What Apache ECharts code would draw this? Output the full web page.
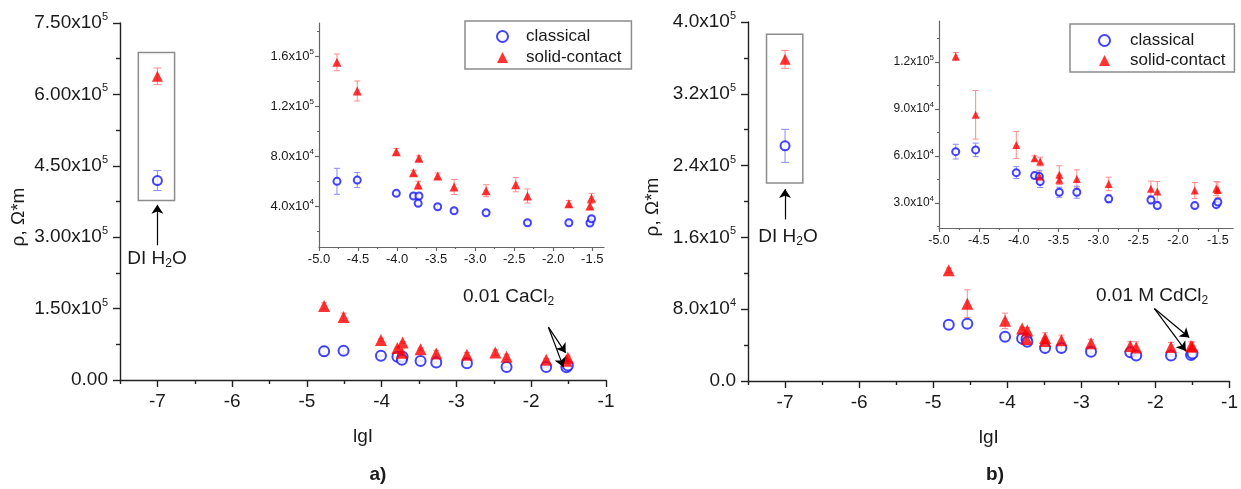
<!DOCTYPE html>
<html><head><meta charset="utf-8">
<script src="https://cdn.jsdelivr.net/npm/echarts@6/dist/echarts.min.js"></script>
<style>html,body{margin:0;padding:0;background:#fff}#c{width:1241px;height:489px}</style>
</head><body><div id="c"></div>
<script>
// ---------------- data: panel a (CaCl2) ----------------
const aClsX = [-4.77,-4.51,-4.01,-3.79,-3.72,-3.73,-3.48,-3.27,-2.86,-2.33,-1.80,-1.53,-1.51];
const aClsY = [60300,61300,50700,48600,48600,42700,40000,36800,35200,27200,27200,27000,30400];
const aClsE = [10400,6000,1500,1500,1500,1500,1500,1500,1200,1200,1200,1200,1500];
const aSolX = [-4.77,-4.51,-4.01,-3.79,-3.72,-3.73,-3.48,-3.27,-2.86,-2.48,-2.33,-1.80,-1.53,-1.51];
const aSolY = [155500,132600,84000,67200,78700,57400,64500,55800,52800,57600,48600,42400,40500,46700];
const aSolE = [6700,8000,2500,2000,2000,3000,2500,6000,4800,5700,5600,2500,2500,4000];
const aDiX = [-7];
const aDiClsY = [419000];
const aDiClsE = [21000];
const aDiSolY = [638000];
const aDiSolE = [17500];

// ---------------- data: panel b (CdCl2) ----------------
const bClsX = [-4.79,-4.54,-4.03,-3.80,-3.74,-3.73,-3.49,-3.27,-2.87,-2.34,-2.26,-1.79,-1.52,-1.50];
const bClsY = [62700,63800,49300,47400,46800,43600,36800,36800,32600,31900,28300,28300,28900,30600];
const bClsE = [4700,4300,3800,1500,4000,3800,3200,3800,2500,2500,1500,1000,1500,2000];
const bSolX = [-4.79,-4.54,-4.03,-3.80,-3.73,-3.74,-3.49,-3.49,-3.27,-2.87,-2.34,-2.26,-1.79,-1.52,-1.50];
const bSolY = [123400,86200,67000,58500,56400,46800,47900,44700,45300,42100,39100,37200,37900,39100,38300];
const bSolE = [2500,15500,8600,1500,2800,3000,5800,3000,5800,4300,4800,6400,5100,4500,5000];
const bDiX = [-7];
const bDiClsY = [262000];
const bDiClsE = [18400];
const bDiSolY = [358400];
const bDiSolE = [10000];

// ---------------- ticks ----------------
const mainXMajor = [-7,-6,-5,-4,-3,-2,-1];
const mainXLabels = ['-7','-6','-5','-4','-3','-2','-1'];
const mainXMinor = [-7.5,-6.5,-5.5,-4.5,-3.5,-2.5,-1.5];
const inXMajor = [-5,-4.5,-4,-3.5,-3,-2.5,-2,-1.5];
const inXLabels = ['-5.0','-4.5','-4.0','-3.5','-3.0','-2.5','-2.0','-1.5'];
const inXMinor = [-4.75,-4.25,-3.75,-3.25,-2.75,-2.25,-1.75];

const aYMajor = [0,150000,300000,450000,600000,750000];
const aYLabels = ['0.00','1.50x10^5','3.00x10^5','4.50x10^5','6.00x10^5','7.50x10^5'];
const aYMinor = [75000,225000,375000,525000,675000];
const aInYMajor = [40000,80000,120000,160000];
const aInYLabels = ['4.0x10^4','8.0x10^4','1.2x10^5','1.6x10^5'];
const aInYMinor = [20000,60000,100000,140000,180000];

const bYMajor = [0,80000,160000,240000,320000,400000];
const bYLabels = ['0.0','8.0x10^4','1.6x10^5','2.4x10^5','3.2x10^5','4.0x10^5'];
const bYMinor = [40000,120000,200000,280000,360000];
const bInYMajor = [30000,60000,90000,120000];
const bInYLabels = ['3.0x10^4','6.0x10^4','9.0x10^4','1.2x10^5'];
const bInYMinor = [15000,45000,75000,105000,135000];

// ---------------- helpers ----------------
const FONT = "'Liberation Sans', Arial, Helvetica, sans-serif";
const TXT = '#1a1a1a';
const BLUE = '#1414ff', RED = '#ff0000', BLUE_E = '#8a8aff', RED_E = '#ff8a8a';

function toRich(s) {
  if (s.indexOf('^') < 0) return '{m|' + s + '}';
  const p = s.split('^');
  return '{m|' + p[0] + '}{s|' + p[1] + '}';
}
function idxOf(arr, v) {
  let best = 0;
  for (let i = 1; i < arr.length; i++) if (Math.abs(arr[i] - v) < Math.abs(arr[best] - v)) best = i;
  return best;
}
function axisPair(dim, grid, min, max, major, labels, minor, o) {
  const pos = dim === 'x' ? 'bottom' : 'left';
  const rich = {
    m: {fontSize: o.fs, lineHeight: o.fs + 4, color: TXT, fontFamily: FONT},
    s: {fontSize: o.sfs, lineHeight: o.sfs + 1, verticalAlign: 'top', color: TXT, fontFamily: FONT}
  };
  const ls = {color: o.lc, width: o.lw};
  const maj = {
    type: 'value', gridIndex: grid, position: pos, min: min, max: max,
    axisLine: {show: true, onZero: false, lineStyle: ls},
    axisTick: {show: true, inside: false, length: o.tl, customValues: major, lineStyle: ls},
    axisLabel: {show: true, customValues: major, margin: o.margin, color: TXT,
      formatter: function (v) { return toRich(labels[idxOf(major, v)]); }, rich: rich},
    splitLine: {show: false}, minorTick: {show: false}
  };
  const mnr = {
    type: 'value', gridIndex: grid, position: pos, min: min, max: max,
    axisLine: {show: false, onZero: false},
    axisTick: {show: true, inside: false, length: Math.round(o.tl * 0.55), customValues: minor, lineStyle: ls},
    axisLabel: {show: false}, splitLine: {show: false}
  };
  return [maj, mnr];
}
function zip(xs, ys, es) { return xs.map((x, i) => es ? [x, ys[i], es[i]] : [x, ys[i]]); }
function errRender(cap, color, width) {
  return function (params, api) {
    const x = api.value(0), y = api.value(1), e = api.value(2);
    const hi = api.coord([x, y + e]), lo = api.coord([x, y - e]);
    const st = {stroke: color, lineWidth: width};
    return {type: 'group', children: [
      {type: 'line', shape: {x1: hi[0], y1: hi[1], x2: lo[0], y2: lo[1]}, style: st},
      {type: 'line', shape: {x1: hi[0] - cap, y1: hi[1], x2: hi[0] + cap, y2: hi[1]}, style: st},
      {type: 'line', shape: {x1: lo[0] - cap, y1: lo[1], x2: lo[0] + cap, y2: lo[1]}, style: st}
    ]};
  };
}
function errSeries(xi, yi, xs, ys, es, cap, color) {
  return {type: 'custom', name: 'err', xAxisIndex: xi, yAxisIndex: yi, z: 1, silent: true,
    renderItem: errRender(cap, color, 1), data: zip(xs, ys, es), encode: {x: 0, y: 1}};
}
function clsSeries(xi, yi, xs, ys, size, bw, extra) {
  return Object.assign({type: 'scatter', name: 'classical', xAxisIndex: xi, yAxisIndex: yi, z: 3,
    symbol: 'emptyCircle', symbolSize: size,
    itemStyle: {color: BLUE, borderColor: BLUE, borderWidth: bw}, data: zip(xs, ys)}, extra || {});
}
function solSeries(xi, yi, xs, ys, size) {
  return {type: 'scatter', name: 'solid-contact', xAxisIndex: xi, yAxisIndex: yi, z: 3,
    symbol: 'triangle', symbolSize: size, itemStyle: {color: RED}, data: zip(xs, ys)};
}

const mainO = {fs: 19, sfs: 11, lc: '#222', lw: 1.4, tl: 7, margin: 10};
const mainYO = Object.assign({}, mainO, {margin: 12});
const inAO = {fs: 13, sfs: 8, lc: '#666', lw: 1.2, tl: 4, margin: 5};
const inBO = {fs: 12, sfs: 8, lc: '#666', lw: 1.2, tl: 4, margin: 5};

const xAxes = [].concat(
  axisPair('x', 0, -7.5, -1, mainXMajor, mainXLabels, mainXMinor, mainO),
  axisPair('x', 1, -5, -1.35, inXMajor, inXLabels, inXMinor, Object.assign({}, inAO, {margin: 4})),
  axisPair('x', 2, -7.5, -1, mainXMajor, mainXLabels, mainXMinor, mainO),
  axisPair('x', 3, -5, -1.31, inXMajor, inXLabels, inXMinor, Object.assign({}, inBO, {fs: 12.5, margin: 4}))
);
xAxes[0].name = 'lgI'; xAxes[0].nameLocation = 'middle'; xAxes[0].nameGap = 47;
xAxes[0].nameTextStyle = {fontSize: 19, color: TXT, fontFamily: FONT};
xAxes[4].name = 'lgI'; xAxes[4].nameLocation = 'middle'; xAxes[4].nameGap = 47;
xAxes[4].nameTextStyle = {fontSize: 19, color: TXT, fontFamily: FONT};

const yAxes = [].concat(
  axisPair('y', 0, 0, 750000, aYMajor, aYLabels, aYMinor, mainYO),
  axisPair('y', 1, 7760, 187000, aInYMajor, aInYLabels, aInYMinor, inAO),
  axisPair('y', 2, 0, 400000, bYMajor, bYLabels, bYMinor, mainYO),
  axisPair('y', 3, 14000, 146000, bInYMajor, bInYLabels, bInYMinor, inBO)
);

const arrowLine = {symbol: ['none', 'arrow'], symbolSize: 9, silent: true, animation: false,
  lineStyle: {color: '#000', width: 1.2, type: 'solid'}, label: {show: false},
  itemStyle: {color: '#000'}};
const boxArea = {silent: true, itemStyle: {color: 'rgba(0,0,0,0)', borderColor: '#8c8c8c', borderWidth: 1.5}, label: {show: false}};

const series = [
  // panel a main
  errSeries(0, 0, aSolX, aSolY, aSolE, 3, RED_E),
  errSeries(0, 0, aClsX, aClsY, aClsE, 3, BLUE_E),
  errSeries(0, 0, aDiX, aDiSolY, aDiSolE, 4, RED_E),
  errSeries(0, 0, aDiX, aDiClsY, aDiClsE, 4, BLUE_E),
  clsSeries(0, 0, aClsX, aClsY, 10, 2.2, {
    markLine: Object.assign({}, arrowLine, {data: [
      [{coord: [-7, 283000]}, {coord: [-7, 368000]}],
      [{coord: [-1.77, 111000]}, {coord: [-1.54, 57000]}],
      [{coord: [-1.77, 111000]}, {coord: [-1.57, 27500]}]
    ]}),
    markArea: Object.assign({}, boxArea, {data: [[{coord: [-7.255, 377000]}, {coord: [-6.77, 688000]}]]})
  }),
  solSeries(0, 0, aSolX, aSolY, 12),
  clsSeries(0, 0, aDiX, aDiClsY, 9, 2),
  solSeries(0, 0, aDiX, aDiSolY, 11),
  // panel a inset
  errSeries(2, 2, aSolX, aSolY, aSolE, 3, RED_E),
  errSeries(2, 2, aClsX, aClsY, aClsE, 3, BLUE_E),
  clsSeries(2, 2, aClsX, aClsY, 7, 1.5),
  solSeries(2, 2, aSolX, aSolY, 9),
  // panel b main
  errSeries(4, 4, bSolX, bSolY, bSolE, 3, RED_E),
  errSeries(4, 4, bClsX, bClsY, bClsE, 3, BLUE_E),
  errSeries(4, 4, bDiX, bDiSolY, bDiSolE, 4, RED_E),
  errSeries(4, 4, bDiX, bDiClsY, bDiClsE, 4, BLUE_E),
  clsSeries(4, 4, bClsX, bClsY, 10, 2.2, {
    markLine: Object.assign({}, arrowLine, {data: [
      [{coord: [-7, 180000]}, {coord: [-7, 214000]}],
      [{coord: [-2.014, 80700]}, {coord: [-1.544, 48400]}],
      [{coord: [-2.014, 80700]}, {coord: [-1.59, 33500]}]
    ]}),
    markArea: Object.assign({}, boxArea, {data: [[{coord: [-7.25, 220500]}, {coord: [-6.76, 386300]}]]})
  }),
  solSeries(4, 4, bSolX, bSolY, 12),
  clsSeries(4, 4, bDiX, bDiClsY, 9, 2),
  solSeries(4, 4, bDiX, bDiSolY, 11),
  // panel b inset
  errSeries(6, 6, bSolX, bSolY, bSolE, 3, RED_E),
  errSeries(6, 6, bClsX, bClsY, bClsE, 3, BLUE_E),
  clsSeries(6, 6, bClsX, bClsY, 7, 1.5),
  solSeries(6, 6, bSolX, bSolY, 8)
];

const legendBase = {orient: 'vertical', selectedMode: false,
  data: ['classical', 'solid-contact'],
  itemWidth: 11, itemHeight: 11, borderColor: '#8c8c8c', borderWidth: 1.5, backgroundColor: '#fff'};

const subRich = {
  b: {fontSize: 19, lineHeight: 22, color: TXT, fontFamily: FONT},
  s: {fontSize: 12, lineHeight: 10, verticalAlign: 'bottom', color: TXT, fontFamily: FONT}
};
function txt(x, y, text, extra) {
  return {type: 'text', x: x, y: y, silent: true,
    style: Object.assign({text: text, fontSize: 19, fontFamily: FONT, fill: TXT, align: 'center', verticalAlign: 'middle'}, extra || {})};
}

const option = {
  animation: false,
  backgroundColor: '#fff',
  grid: [
    {left: 120, top: 23, width: 486, height: 357},
    {left: 319, top: 23, width: 285, height: 224},
    {left: 748, top: 22, width: 484, height: 359},
    {left: 939, top: 21, width: 294, height: 207}
  ],
  xAxis: xAxes,
  yAxis: yAxes,
  legend: [
    Object.assign({}, legendBase, {left: 465, top: 21, itemGap: 4, padding: [7, 10, 3, 31],
      textStyle: {fontSize: 17, lineHeight: 17, color: TXT, fontFamily: FONT, padding: [0, 0, 0, 13]}}),
    Object.assign({}, legendBase, {left: 1070, top: 24, itemGap: 3, padding: [8, 9, 3, 28],
      textStyle: {fontSize: 17, lineHeight: 17, color: TXT, fontFamily: FONT, padding: [0, 0, 0, 15]}})
  ],
  graphic: [
    txt(19, 217, 'ρ, Ω*m', {}),
    txt(653, 207, 'ρ, Ω*m', {}),
    txt(157, 259, '{b|DI H}{s|2}{b|O}', {rich: subRich}),
    txt(788, 237, '{b|DI H}{s|2}{b|O}', {rich: subRich}),
    txt(463, 297, '{b|0.01 CaCl}{s|2}', {rich: subRich, align: 'left'}),
    txt(1096, 296, '{b|0.01 M CdCl}{s|2}', {rich: subRich, align: 'left'}),
    txt(378, 475, 'a)', {fontWeight: 'bold'}),
    txt(995, 475, 'b)', {fontWeight: 'bold'})
  ],
  series: series
};
option.graphic[0].rotation = Math.PI / 2;
option.graphic[1].rotation = Math.PI / 2;

const chart = echarts.init(document.getElementById('c'), null, {renderer: 'canvas'});
chart.setOption(option);
</script>
</body></html>
